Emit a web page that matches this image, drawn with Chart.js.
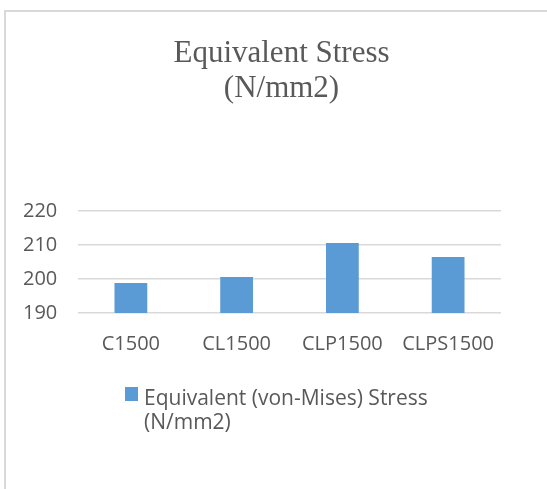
<!doctype html>
<html>

<head>
    <script src="https://cdn.jsdelivr.net/npm/chart.js"></script>
    <style type="text/css">
        body {
            margin: 0;
            background: #fff;
        }

        #frame {
            position: absolute;
            left: 4px;
            top: 10px;
            right: 0;
            bottom: 0;
            border-top: 2px solid #d9d9d9;
            border-left: 2px solid #d9d9d9;
        }

        #wrap {
            position: absolute;
            left: 0;
            top: 0;
            width: 547px;
            height: 489px;
        }

        #legend {
            position: absolute;
            left: 125px;
            top: 385px;
            font-family: 'Open Sans';
            font-size: 21px;
            line-height: 24px;
            color: #595959;
        }

        #legend .box {
            position: absolute;
            left: 0;
            top: 2px;
            width: 13px;
            height: 14px;
        }

        #legend .txt {
            margin-left: 19px;
            white-space: nowrap;
        }
    </style>
</head>

<body>
    <div id="frame"></div>
    <div id="wrap">
        <canvas id="stressChart" width="547" height="489"></canvas>
    </div>
    <div id="legend"><span class="box"></span><div class="txt"></div></div>

    <script>
        // --data--
        const categories = ['C1500', 'CL1500', 'CLP1500', 'CLPS1500'];
        const stressValues = [198.8, 200.6, 210.6, 206.5];
        const seriesName = ['Equivalent (von-Mises) Stress', '(N/mm2)'];
        const titleLines = ['Equivalent Stress', '(N/mm2)'];
        const yMin = 190, yMax = 220, yStep = 10;

        const textGrey = '#595959';
        const barBlue = '#5b9bd5';

        const dataBAR = {
            labels: categories,
            datasets: [{
                label: seriesName.join(' '),
                data: stressValues,
                backgroundColor: barBlue,
                borderWidth: 0,
                barPercentage: 0.31,
                categoryPercentage: 1
            }]
        };

        const configBAR = {
            type: 'bar',
            data: dataBAR,
            options: {
                responsive: false,
                animation: false,
                layout: {
                    padding: { left: 62, right: 46, top: 0, bottom: 114 }
                },
                plugins: {
                    title: {
                        display: true,
                        text: titleLines,
                        color: textGrey,
                        font: { family: 'Liberation Serif', size: 31, weight: 'normal', lineHeight: 1.13 },
                        padding: { top: 36, bottom: 105 }
                    },
                    legend: { display: false },
                    tooltip: { enabled: false }
                },
                scales: {
                    x: {
                        grid: { display: false, drawTicks: false },
                        border: { display: false },
                        ticks: {
                            color: textGrey,
                            padding: 19,
                            maxRotation: 0,
                            font: { family: 'Open Sans', size: 20 }
                        }
                    },
                    y: {
                        min: yMin,
                        max: yMax,
                        grid: { color: '#d9d9d9', lineWidth: 1.5, drawTicks: false },
                        border: { display: false },
                        ticks: {
                            stepSize: yStep,
                            color: textGrey,
                            // mirrored + negative padding puts the labels left of a narrow axis box,
                            // so the title centres like the original
                            mirror: true,
                            padding: -55,
                            font: { family: 'Open Sans', size: 20 }
                        },
                        afterFit: function (scale) {
                            scale.width = 16;
                        }
                    }
                }
            }
        };

        const ctxBAR = document.getElementById('stressChart').getContext('2d');
        const stressChart = new Chart(ctxBAR, configBAR);

        // legend in html so the name can wrap like the original
        const legendEl = document.getElementById('legend');
        legendEl.querySelector('.box').style.background = dataBAR.datasets[0].backgroundColor;
        legendEl.querySelector('.txt').innerHTML = seriesName.join('<br>');
    </script>

</body>

</html>
